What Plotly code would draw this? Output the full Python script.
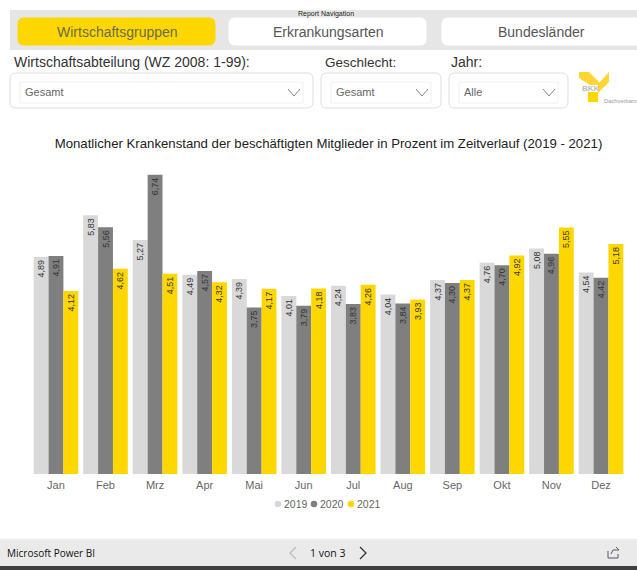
import plotly.graph_objects as go

months = ["Jan", "Feb", "Mrz", "Apr", "Mai", "Jun", "Jul", "Aug", "Sep", "Okt", "Nov", "Dez"]
v2019 = [4.89, 5.83, 5.27, 4.49, 4.39, 4.01, 4.24, 4.04, 4.37, 4.76, 5.08, 4.54]
v2020 = [4.91, 5.56, 6.74, 4.57, 3.75, 3.79, 3.83, 3.84, 4.30, 4.70, 4.96, 4.42]
v2021 = [4.12, 4.62, 4.51, 4.32, 4.17, 4.18, 4.26, 3.93, 4.37, 4.92, 5.55, 5.18]
series = [("2019", v2019, "#D9D9D9"), ("2020", v2020, "#7F7F7F"), ("2021", v2021, "#FFD700")]
title = "Monatlicher Krankenstand der beschäftigten Mitglieder in Prozent im Zeitverlauf (2019 - 2021)"
FONT = "Liberation Sans"
W, H = 637, 570

def X(p): return p / W
def Y(p): return 1 - p / H

fig = go.Figure()
for name, vals, col in series:
    fig.add_trace(go.Bar(
        x=months, y=vals, name=name, marker=dict(color=col, line=dict(width=0)),
        text=[f"{v:.2f}".replace(".", ",") for v in vals],
        textposition="inside", insidetextanchor="end", textangle=-90,
        insidetextfont=dict(family=FONT, size=9, color="#333333"),
        constraintext="none", cliponaxis=False, hoverinfo="x+y",
    ))

shapes, ann = [], []

def rrect(x0, y0, x1, y1, r, fill, line=None, lw=1):
    path = (f"M{X(x0+r)},{Y(y0)} L{X(x1-r)},{Y(y0)} Q{X(x1)},{Y(y0)} {X(x1)},{Y(y0+r)} "
            f"L{X(x1)},{Y(y1-r)} Q{X(x1)},{Y(y1)} {X(x1-r)},{Y(y1)} L{X(x0+r)},{Y(y1)} "
            f"Q{X(x0)},{Y(y1)} {X(x0)},{Y(y1-r)} L{X(x0)},{Y(y0+r)} Q{X(x0)},{Y(y0)} {X(x0+r)},{Y(y0)} Z")
    shapes.append(dict(type="path", xref="paper", yref="paper", path=path, fillcolor=fill,
                       line=dict(color=line or fill, width=lw), layer="below"))

def rect(x0, y0, x1, y1, fill, line=None):
    shapes.append(dict(type="rect", xref="paper", yref="paper", x0=X(x0), x1=X(x1), y0=Y(y1), y1=Y(y0),
                       fillcolor=fill, line=dict(color=line or fill, width=1 if line else 0), layer="below"))

def poly(pts, fill=None, line=None, lw=1):
    path = "M" + " L".join(f"{X(a)},{Y(b)}" for a, b in pts) + (" Z" if fill else "")
    shapes.append(dict(type="path", xref="paper", yref="paper", path=path, fillcolor=fill or "rgba(0,0,0,0)",
                       line=dict(color=line or "rgba(0,0,0,0)", width=lw if line else 0), layer="below"))

def text(x, y, s, size, color="#444444", anchor="left", family=FONT):
    ann.append(dict(text=s, xref="paper", yref="paper", x=X(x), y=Y(y), xanchor=anchor, yanchor="middle",
                    showarrow=False, font=dict(family=family, size=size, color=color)))

rect(10, 10, 637, 50, "#E6E6E6")
rrect(18, 18, 215, 45, 6, "#FFD700")
rrect(229, 18, 426, 45, 6, "#FFFFFF")
rrect(442, 18, 650, 45, 6, "#FFFFFF")
text(326, 14, "Report Navigation", 7, "#222222", "center")
text(117.5, 32, "Wirtschaftsgruppen", 14, "#6B6B4A", "center")
text(328.5, 32, "Erkrankungsarten", 14, "#555555", "center")
text(541.5, 32, "Bundesländer", 14, "#555555", "center")

text(12, 62, "Wirtschaftsabteilung (WZ 2008: 1-99):", 14, "#333333")
text(323, 62, "Geschlecht:", 13.5, "#333333")
text(449, 62, "Jahr:", 14, "#333333")
for x0, x1, lab in [(10, 313, "Gesamt"), (321, 441, "Gesamt"), (449, 568, "Alle")]:
    rrect(x0, 73, x1, 108, 6, "#FFFFFF", "#DDDDDD")
    rect(x0 + 10, 82, x1 - 10, 103, "#FFFFFF", "#F0F0F0")
    text(x0 + 13, 92, lab, 11, "#666666")
    poly([(x1 - 25, 89), (x1 - 19, 96), (x1 - 13, 89)], None, "#888888", 1)

# logo
poly([(579, 72), (589, 72), (600, 83), (598, 85), (590, 85), (579, 78)], "#FFD633")
poly([(609, 72), (609, 82), (598, 93), (598, 84)], "#FFD633")
rect(588, 92, 598, 102, "#FFD700")
text(579.5, 88, "<b>BKK</b>", 8, "#BBBBBB")
text(602, 101, "Dachverband", 5.8, "#999999")

# footer
rect(0, 539, 637, 566, "#EAEAEA")
rect(0, 566, 637, 570, "#404040")
text(5, 553, "Microsoft Power BI", 10, "#111111", family="Open Sans")
text(327, 553, "1 von 3", 10.5, "#111111", "center", family="Open Sans")
poly([(296, 547), (290, 553), (296, 559)], None, "#BBBBBB", 1.3)
poly([(360, 547), (366, 553), (360, 559)], None, "#333333", 1.3)
poly([(608, 551), (608, 558), (618, 558), (618, 554)], None, "#555577", 1)
poly([(611, 554), (613, 550), (619, 550), (616, 547)], None, "#555577", 1)

fig.update_layout(
    width=W, height=H, autosize=False,
    margin=dict(l=0, r=0, t=0, b=0),
    paper_bgcolor="white", plot_bgcolor="white",
    barmode="group", bargap=0.1, bargroupgap=0,
    title=dict(text=title, x=X(328.5), xanchor="center", y=Y(143), yanchor="middle",
               font=dict(family=FONT, size=13.2, color="#222222")),
    xaxis=dict(domain=[X(31.2), X(625.8)], anchor="y", showgrid=False, showline=False, ticks="",
               tickfont=dict(family=FONT, size=11, color="#666666"), ticklabelstandoff=3),
    yaxis=dict(domain=[Y(474), Y(163.2)], range=[0, 7], visible=False),
    showlegend=False,
    shapes=shapes, annotations=ann, font=dict(family=FONT),
)

lx = [278, 314, 351]
for (name, vals, col), x in zip(series, lx):
    shapes.append(dict(type="circle", xref="paper", yref="paper", x0=X(x - 3.3), x1=X(x + 3.3),
                       y0=Y(507.3), y1=Y(500.7), fillcolor=col, line=dict(width=0)))
    ann.append(dict(text=name, xref="paper", yref="paper", x=X(x + 4), y=Y(504), xanchor="left", yanchor="middle",
                    showarrow=False, font=dict(family=FONT, size=10.5, color="#666666")))
fig.update_layout(shapes=shapes, annotations=ann)

fig.write_html("out.html", config={"displayModeBar": False}, post_script="document.body.style.margin='0';")
